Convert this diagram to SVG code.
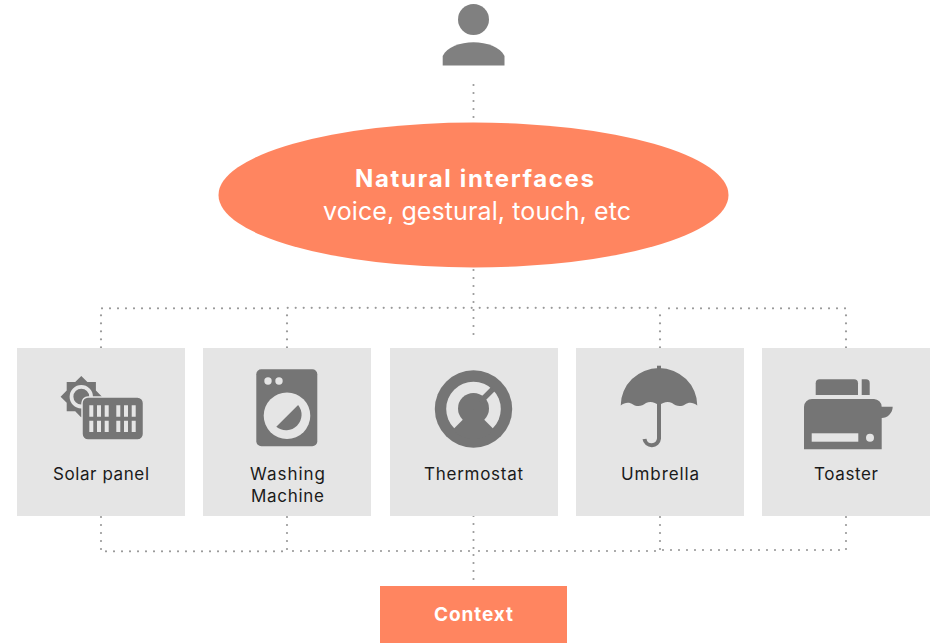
<svg xmlns="http://www.w3.org/2000/svg" width="930" height="643" viewBox="0 0 930 643">
<style>
text{font-family:"Inter","Liberation Sans",sans-serif;text-anchor:middle}
.box{fill:#e5e5e5}
.ic{fill:#757575}
.lt{fill:#e5e5e5}
.lb{font-size:17px;fill:#1a1a1a}
.dot{fill:none;stroke:#999;stroke-width:2.2;stroke-linecap:round;stroke-dasharray:0 8}
.or{fill:#ff8560}
.wh{fill:#fff}
</style>
<rect width="930" height="643" fill="#fff"/>
<g id="connectors" class="dot">
<path d="M473.5 85V118"/>
<path d="M473.5 270V342"/>
<path d="M102 308.3H285"/>
<path d="M287.7 307.8H660"/>
<path d="M669 308.3H846"/>
<path d="M101 315.3V348"/>
<path d="M287 315.3V348"/>
<path d="M660 315.3V348"/>
<path d="M846 315.3V348"/>
<path d="M101 517V550"/>
<path d="M287 517V550"/>
<path d="M473.5 516V549"/>
<path d="M473.5 555V587"/>
<path d="M660 517V550"/>
<path d="M846 517V550"/>
<path d="M106 551.3H284"/>
<path d="M293 551H471"/>
<path d="M479 551H656"/>
<path d="M663 550H840"/>
</g>
<g id="user">
<circle cx="473.5" cy="19.5" r="15.5" fill="#808080"/>
<path d="M442.7 65.5V56C447 47 460 42.3 473.5 42.3S500 47 504.5 56V65.5Z" fill="#808080"/>
</g>
<g id="natural-interfaces">
<ellipse class="or" cx="473.5" cy="195" rx="255" ry="72.5"/>
<text class="wh" x="474.5" y="187" font-size="24" font-weight="700" textLength="239" lengthAdjust="spacing">Natural interfaces</text>
<text class="wh" x="477" y="220" font-size="25" textLength="308" lengthAdjust="spacing">voice, gestural, touch, etc</text>
</g>
<g id="solar-panel">
<rect class="box" x="17" y="348" width="168" height="168"/>
<polygon class="ic" points="81.3,376 87.4,382 95.9,382 95.9,390.5 102,396.7 95.9,402.8 95.9,411.3 87.4,411.3 81.3,417.4 75.2,411.3 66.7,411.3 66.7,402.8 60.6,396.7 66.7,390.5 66.7,382 75.2,382"/>
<circle cx="81.3" cy="396.7" r="9.8" fill="none" stroke="#e5e5e5" stroke-width="3.8"/>
<rect class="ic" x="82" y="397" width="61.5" height="43" rx="6" stroke="#e5e5e5" stroke-width="1.5"/>
<path class="lt" d="M89.3 405.3h4v11.4h-4zM97 405.3h4v11.4h-4zM104.7 405.3h4v11.4h-4zM116.3 405.3h4v11.4h-4zM124 405.3h4v11.4h-4zM131.7 405.3h4v11.4h-4zM89.3 420.7h4v11.3h-4zM97 420.7h4v11.3h-4zM104.7 420.7h4v11.3h-4zM116.3 420.7h4v11.3h-4zM124 420.7h4v11.3h-4zM131.7 420.7h4v11.3h-4z"/>
<text class="lb" x="101" y="480" textLength="96" lengthAdjust="spacing">Solar panel</text>
</g>
<g id="washing-machine">
<rect class="box" x="203" y="348" width="168" height="168"/>
<rect class="ic" x="256.3" y="369.3" width="61" height="77" rx="5"/>
<circle class="lt" cx="268" cy="381" r="3.7"/>
<circle class="lt" cx="279" cy="381" r="3.7"/>
<circle class="lt" cx="287" cy="415.7" r="23.3"/>
<path class="ic" d="M276.3 426.8L298.1 405A15.5 15.5 0 0 1 276.3 426.8Z"/>
<text class="lb" x="287.5" y="480" textLength="75" lengthAdjust="spacing">Washing</text>
<text class="lb" x="287.5" y="502" textLength="73" lengthAdjust="spacing">Machine</text>
</g>
<g id="thermostat">
<rect class="box" x="390" y="348" width="168" height="168"/>
<circle class="ic" cx="473.5" cy="409" r="38.7"/>
<circle class="lt" cx="473.5" cy="409" r="27.3"/>
<circle class="ic" cx="473.5" cy="408.5" r="15.5"/>
<path class="ic" d="M473.5 409L452.5 430A29.7 29.7 0 0 0 494.5 430Z"/>
<path d="M480 402L493 389" stroke="#757575" stroke-width="5.5" fill="none"/>
<text class="lb" x="473.5" y="480" textLength="99" lengthAdjust="spacing">Thermostat</text>
</g>
<g id="umbrella">
<rect class="box" x="576" y="348" width="168" height="168"/>
<rect class="ic" x="657" y="365.7" width="4" height="6"/>
<path class="ic" d="M620.7 405.5A38.3 37.5 0 0 1 697.3 405.5C693 402 688.5 402 685 404.5C681 407 676 406.5 672 403C668 401 663 402 659 405.5C655 402 650 401 646 403C642 406.5 637 407 633 404.5C629.5 402 625 402 620.7 405.5Z"/>
<path d="M659 404V438.5A7.3 7.3 0 0 1 644.5 439" fill="none" stroke="#757575" stroke-width="4"/>
<text class="lb" x="660" y="480" textLength="78" lengthAdjust="spacing">Umbrella</text>
</g>
<g id="toaster">
<rect class="box" x="762" y="348" width="168" height="168"/>
<path class="ic" d="M815.7 395V383.3a4 4 0 0 1 4-4H854a4 4 0 0 1 4 4V395Z"/>
<path class="ic" d="M861.7 379.3H866a3.7 3.7 0 0 1 3.7 3.7V395H861.7Z"/>
<path class="ic" d="M804 449.3V407a8 8 0 0 1 8-8H874a8 8 0 0 1 7.7 7.7H892.7C892.7 413 887.5 418 881.7 418V449.3Z"/>
<rect class="lt" x="811.7" y="433.3" width="46.6" height="8.4"/>
<circle class="lt" cx="870" cy="437.7" r="4"/>
<text class="lb" x="846" y="480" textLength="64" lengthAdjust="spacing">Toaster</text>
</g>
<g id="context">
<rect class="or" x="380" y="586" width="187" height="57"/>
<text class="wh" x="473.5" y="621" font-size="19" font-weight="700" textLength="79" lengthAdjust="spacing">Context</text>
</g>
</svg>
